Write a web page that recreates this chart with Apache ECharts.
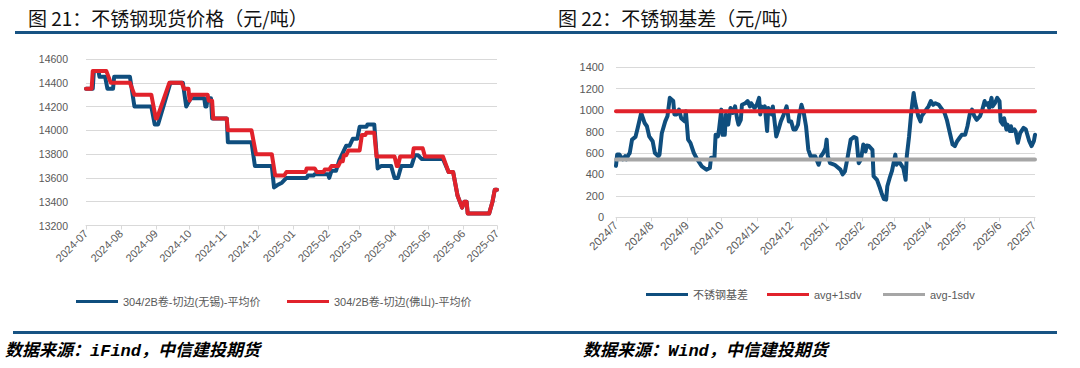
<!DOCTYPE html>
<html><head><meta charset="utf-8">
<script src="https://cdn.jsdelivr.net/npm/echarts@6/dist/echarts.min.js"></script>
<style>
html,body{margin:0;padding:0;background:#fff;width:1080px;height:368px;overflow:hidden;}
#chart{position:absolute;left:0;top:0;width:1080px;height:368px;}
.title{position:absolute;top:6px;font-family:"Noto Sans CJK SC",sans-serif;font-size:19px;line-height:24px;color:#111;white-space:nowrap;}
.rule{position:absolute;height:3px;background:#175383;}
.src{position:absolute;top:341px;font-family:"Liberation Mono","Noto Sans CJK SC",monospace;font-style:italic;font-weight:bold;font-size:17px;line-height:22px;color:#000;white-space:nowrap;}
</style></head>
<body>
<div id="chart"></div>
<div class="title" style="left:28px">图 21：不锈钢现货价格（元/吨）</div>
<div class="title" style="left:558px">图 22：不锈钢基差（元/吨）</div>
<div class="rule" style="left:15px;width:1042px;top:31px"></div>
<div class="rule" style="left:13px;width:1044px;top:331px"></div>
<div class="src" style="left:5px">数据来源：iFind，中信建投期货</div>
<div class="src" style="left:583px">数据来源：Wind，中信建投期货</div>
<script>
// ---- Left chart: spot prices (元/吨)
const wuxiName = '304/2B卷-切边(无锡)-平均价';
const foshanName = '304/2B卷-切边(佛山)-平均价';
const wuxiDates = ['2024-07-01','2024-07-07','2024-07-08','2024-07-12','2024-07-13','2024-07-18','2024-07-20','2024-07-25','2024-07-26','2024-08-09','2024-08-13','2024-08-28','2024-08-31','2024-09-03','2024-09-14','2024-09-25','2024-09-28','2024-10-02','2024-10-14','2024-10-15','2024-10-16','2024-10-17','2024-10-20','2024-10-21','2024-11-03','2024-11-04','2024-11-25','2024-11-28','2024-12-13','2024-12-15','2024-12-18','2024-12-22','2024-12-26','2025-01-13','2025-01-14','2025-01-19','2025-01-20','2025-02-01','2025-02-02','2025-02-04','2025-02-08','2025-02-11','2025-02-17','2025-02-20','2025-02-23','2025-02-27','2025-03-01','2025-03-07','2025-03-08','2025-03-14','2025-03-17','2025-03-20','2025-03-29','2025-04-01','2025-04-04','2025-04-07','2025-04-16','2025-04-19','2025-04-22','2025-04-25','2025-05-14','2025-05-19','2025-05-23','2025-05-27','2025-05-31','2025-06-02','2025-06-04','2025-06-05','2025-06-24','2025-06-27','2025-06-29','2025-07-01'];
const wuxiValues = [14350,14350,14500,14500,14450,14450,14350,14350,14450,14450,14200,14200,14050,14050,14400,14400,14200,14270,14270,14200,14200,14270,14270,14100,14100,13900,13900,13700,13700,13520,13540,13560,13600,13600,13620,13620,13630,13630,13600,13660,13660,13750,13870,13870,13930,13930,14030,14030,14050,14050,13680,13700,13700,13600,13600,13700,13700,13790,13790,13760,13760,13650,13650,13450,13350,13400,13400,13300,13300,13400,13500,13500];
const foshanDates = ['2024-07-01','2024-07-06','2024-07-07','2024-07-19','2024-07-23','2024-08-09','2024-08-13','2024-08-28','2024-09-01','2024-09-02','2024-09-13','2024-09-24','2024-09-26','2024-09-30','2024-10-01','2024-10-03','2024-10-17','2024-10-18','2024-10-21','2024-10-22','2024-11-03','2024-11-04','2024-11-25','2024-11-29','2024-12-13','2024-12-16','2024-12-24','2024-12-26','2025-01-12','2025-01-13','2025-01-20','2025-01-22','2025-01-28','2025-01-29','2025-02-02','2025-02-04','2025-02-10','2025-02-12','2025-02-14','2025-02-15','2025-02-17','2025-02-19','2025-03-01','2025-03-03','2025-03-06','2025-03-07','2025-03-14','2025-03-16','2025-04-01','2025-04-03','2025-04-04','2025-04-06','2025-04-17','2025-04-18','2025-04-26','2025-04-28','2025-05-14','2025-05-19','2025-05-23','2025-05-27','2025-05-31','2025-06-02','2025-06-04','2025-06-05','2025-06-24','2025-06-27','2025-06-29','2025-07-01'];
const foshanValues = [14350,14350,14500,14500,14400,14400,14300,14300,14100,14100,14400,14400,14350,14350,14250,14300,14300,14250,14250,14100,14100,14000,14000,13800,13800,13620,13620,13650,13650,13680,13680,13650,13650,13670,13670,13700,13700,13740,13740,13790,13790,13830,13830,13960,13960,13980,13980,13780,13780,13700,13700,13780,13780,13850,13850,13780,13780,13650,13650,13450,13350,13400,13400,13300,13300,13400,13500,13500];
const priceMin = 13200, priceMax = 14600, priceStep = 200;

// ---- Right chart: basis (元/吨)
const basisName = '不锈钢基差', upperName = 'avg+1sdv', lowerName = 'avg-1sdv';
const basisDates = ['2024-07-01','2024-07-02','2024-07-04','2024-07-07','2024-07-09','2024-07-10','2024-07-12','2024-07-13','2024-07-15','2024-07-18','2024-07-20','2024-07-23','2024-07-26','2024-07-28','2024-07-30','2024-08-02','2024-08-04','2024-08-07','2024-08-08','2024-08-10','2024-08-13','2024-08-15','2024-08-17','2024-08-20','2024-08-21','2024-08-23','2024-08-25','2024-08-27','2024-08-30','2024-08-31','2024-09-02','2024-09-04','2024-09-07','2024-09-10','2024-09-14','2024-09-18','2024-09-21','2024-09-22','2024-09-25','2024-09-26','2024-09-28','2024-09-29','2024-10-01','2024-10-02','2024-10-04','2024-10-05','2024-10-07','2024-10-09','2024-10-11','2024-10-13','2024-10-15','2024-10-16','2024-10-18','2024-10-19','2024-10-22','2024-10-24','2024-10-26','2024-10-27','2024-10-30','2024-11-01','2024-11-03','2024-11-04','2024-11-05','2024-11-07','2024-11-08','2024-11-10','2024-11-11','2024-11-12','2024-11-14','2024-11-15','2024-11-17','2024-11-18','2024-11-20','2024-11-22','2024-11-24','2024-11-27','2024-11-28','2024-11-29','2024-12-01','2024-12-03','2024-12-05','2024-12-07','2024-12-08','2024-12-10','2024-12-12','2024-12-14','2024-12-16','2024-12-18','2024-12-22','2024-12-25','2024-12-27','2024-12-29','2024-12-31','2025-01-01','2025-01-02','2025-01-04','2025-01-08','2025-01-13','2025-01-15','2025-01-17','2025-01-19','2025-01-22','2025-01-25','2025-01-27','2025-01-29','2025-01-31','2025-02-02','2025-02-04','2025-02-05','2025-02-07','2025-02-10','2025-02-11','2025-02-14','2025-02-16','2025-02-18','2025-02-20','2025-02-22','2025-02-23','2025-02-25','2025-02-27','2025-03-02','2025-03-03','2025-03-05','2025-03-08','2025-03-09','2025-03-11','2025-03-12','2025-03-14','2025-03-16','2025-03-18','2025-03-19','2025-03-22','2025-03-24','2025-03-25','2025-03-28','2025-03-31','2025-04-02','2025-04-04','2025-04-06','2025-04-09','2025-04-12','2025-04-14','2025-04-16','2025-04-19','2025-04-21','2025-04-23','2025-04-25','2025-04-27','2025-04-29','2025-05-02','2025-05-04','2025-05-06','2025-05-08','2025-05-10','2025-05-12','2025-05-15','2025-05-17','2025-05-19','2025-05-20','2025-05-22','2025-05-23','2025-05-25','2025-05-26','2025-05-28','2025-05-30','2025-06-01','2025-06-02','2025-06-04','2025-06-05','2025-06-07','2025-06-08','2025-06-10','2025-06-11','2025-06-12','2025-06-14','2025-06-15','2025-06-17','2025-06-19','2025-06-22','2025-06-24','2025-06-27','2025-06-29','2025-07-01','2025-07-02'];
const basisValues = [480,585,585,540,570,540,585,600,725,750,835,975,880,850,755,710,600,570,585,785,895,945,1115,1085,960,960,1005,925,895,990,725,695,600,540,475,445,460,555,555,770,755,820,1005,770,770,960,865,1020,975,1035,910,865,910,1050,1065,1085,1035,1065,1020,1050,1115,960,1035,1005,1035,805,1020,1005,960,1035,850,755,820,895,945,1035,975,895,895,820,820,865,945,1050,975,850,630,570,570,490,570,600,645,725,570,505,490,445,400,430,540,725,750,740,505,540,680,615,670,665,630,385,350,290,225,170,165,290,365,430,585,490,525,475,460,350,570,755,990,1160,1085,945,895,945,990,1035,1085,1050,1065,1050,1005,975,910,770,680,665,710,740,770,770,850,960,1005,945,910,945,1005,1085,1050,1065,1020,1115,1035,1065,1115,1085,895,865,925,820,865,805,850,805,820,805,695,785,835,820,710,665,710,770];
const upperValue = 990, lowerValue = 540;
const basisMin = 0, basisMax = 1400, basisStep = 200;

function dayList(start, end) {
  const out = [];
  let t = Date.parse(start + 'T00:00:00Z');
  const e = Date.parse(end + 'T00:00:00Z');
  while (t <= e) { out.push(new Date(t).toISOString().slice(0, 10)); t += 86400000; }
  return out;
}
const leftCats = dayList('2024-07-01', '2025-07-01');
const rightCats = dayList('2024-07-01', '2025-07-02');
const pairs = (ds, vs) => ds.map((d, i) => [d, vs[i]]);
const isMonthStart = (i, v) => v.slice(8) === '01';

const FONT = "'Liberation Sans','Noto Sans CJK SC',sans-serif";
const BLUE = '#0f4e7e', RED = '#e1222b', GRAY = '#a6a6a6', TXT = '#595959', GRID = '#d9d9d9';

function xAxisCfg(gridIndex, cats, fmt, fs) {
  return {
    type: 'category', gridIndex, data: cats, boundaryGap: false,
    axisLine: { lineStyle: { color: GRID, width: 1 } },
    axisTick: { show: true, interval: isMonthStart, length: 4, lineStyle: { color: GRID } },
    axisLabel: { interval: isMonthStart, formatter: fmt, rotate: 45, fontSize: fs, color: TXT, margin: 6, fontFamily: FONT },
    splitLine: { show: false }
  };
}
function yAxisCfg(gridIndex, min, max, step, fs, margin) {
  return {
    type: 'value', gridIndex, min, max, interval: step,
    axisLine: { show: false }, axisTick: { show: false },
    axisLabel: { fontSize: fs, color: TXT, margin, fontFamily: FONT, formatter: v => String(v) },
    splitLine: { lineStyle: { color: GRID, width: 1 } }
  };
}
function legendCfg(name, left, top) {
  return {
    data: [name], left, top, icon: 'rect', itemWidth: 42, itemHeight: 3, padding: 0,
    selectedMode: false, textStyle: { fontSize: 11, color: TXT, fontFamily: FONT }
  };
}
const lineSeries = (name, x, y, data, color, width, z) => ({
  name, type: 'line', xAxisIndex: x, yAxisIndex: y, data, showSymbol: false, symbol: 'none',
  z, color, lineStyle: { color, width, join: 'round', cap: 'round' }, animation: false
});

const chart = echarts.init(document.getElementById('chart'), null, { renderer: 'svg' });
chart.setOption({
  animation: false,
  textStyle: { fontFamily: FONT },
  grid: [
    { left: 86, right: 583, top: 59, bottom: 142.5 },
    { left: 616, right: 45, top: 67.3, bottom: 150.7 }
  ],
  xAxis: [
    xAxisCfg(0, leftCats, v => v.slice(0, 7), 11),
    xAxisCfg(1, rightCats, v => v.slice(0, 4) + '/' + parseInt(v.slice(5, 7), 10), 11.5)
  ],
  yAxis: [
    yAxisCfg(0, priceMin, priceMax, priceStep, 10.5, 18),
    yAxisCfg(1, basisMin, basisMax, basisStep, 11, 12)
  ],
  legend: [
    legendCfg(wuxiName, 76, 296),
    legendCfg(foshanName, 287, 296),
    legendCfg(basisName, 646, 289),
    legendCfg(upperName, 767, 289),
    legendCfg(lowerName, 883, 289)
  ],
  series: [
    lineSeries(wuxiName, 0, 0, pairs(wuxiDates, wuxiValues), BLUE, 4, 2),
    lineSeries(foshanName, 0, 0, pairs(foshanDates, foshanValues), RED, 4, 3),
    lineSeries(basisName, 1, 1, pairs(basisDates, basisValues), BLUE, 4, 2),
    lineSeries(upperName, 1, 1, [[rightCats[0], upperValue], [rightCats[rightCats.length - 1], upperValue]], RED, 4, 3),
    lineSeries(lowerName, 1, 1, [[rightCats[0], lowerValue], [rightCats[rightCats.length - 1], lowerValue]], GRAY, 4, 3)
  ]
});
</script>
</body></html>
